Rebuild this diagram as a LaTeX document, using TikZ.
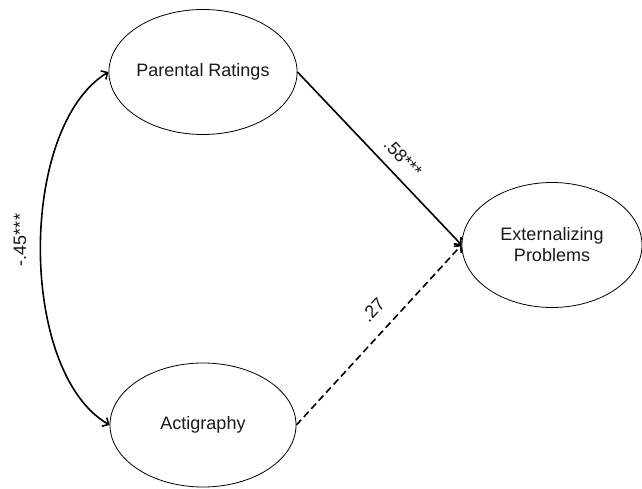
\documentclass[tikz,border=0pt]{standalone}
\usepackage{fontspec}
\setmainfont{Liberation Sans}
\usetikzlibrary{shapes.geometric,arrows.meta}
\begin{document}
\begin{tikzpicture}[x=1pt,y=-1pt,
  latent/.style={ellipse,draw=black,line width=0.8pt,fill=white,inner sep=0pt,
    font=\fontsize{18}{21}\selectfont,text=black!90,align=center},
  path/.style={line width=1.6pt,-{Straight Barb[length=5pt,width=10pt,line width=1.6pt]}},
  dashpath/.style={path,dash pattern=on 7pt off 4pt},
  coef/.style={font=\fontsize{18}{21}\selectfont,text=black!90,inner sep=1pt}]
\useasboundingbox (0,0) rectangle (642,489);
\node[latent,minimum width=186pt,minimum height=125pt] (P) at (203,72) {Parental Ratings};
\node[latent,minimum width=186pt,minimum height=124pt] (A) at (203,425) {Actigraphy};
\node[latent,minimum width=180pt,minimum height=125pt] (E) at (552,245) {Externalizing\\Problems};
\draw[path] (P.east) -- (E.west);
\draw[dashpath] (A.east) -- (E.west);
\node[coef,rotate=-46.3] (L1) at (403,158) {.58***};
\node[coef,rotate=47] (L2) at (373,310) {.27};
\coordinate (c1) at (18,127);
\coordinate (c2) at (18,372);
\draw[line width=1.6pt,{Straight Barb[length=5pt,width=10pt,line width=1.6pt]}-{Straight Barb[length=5pt,width=10pt,line width=1.6pt]}]
  (P.west) .. controls (c1) and (c2) .. (A.west);
\node[coef,rotate=90] (L) at (20,240) {-.45***};
\end{tikzpicture}
\end{document}
